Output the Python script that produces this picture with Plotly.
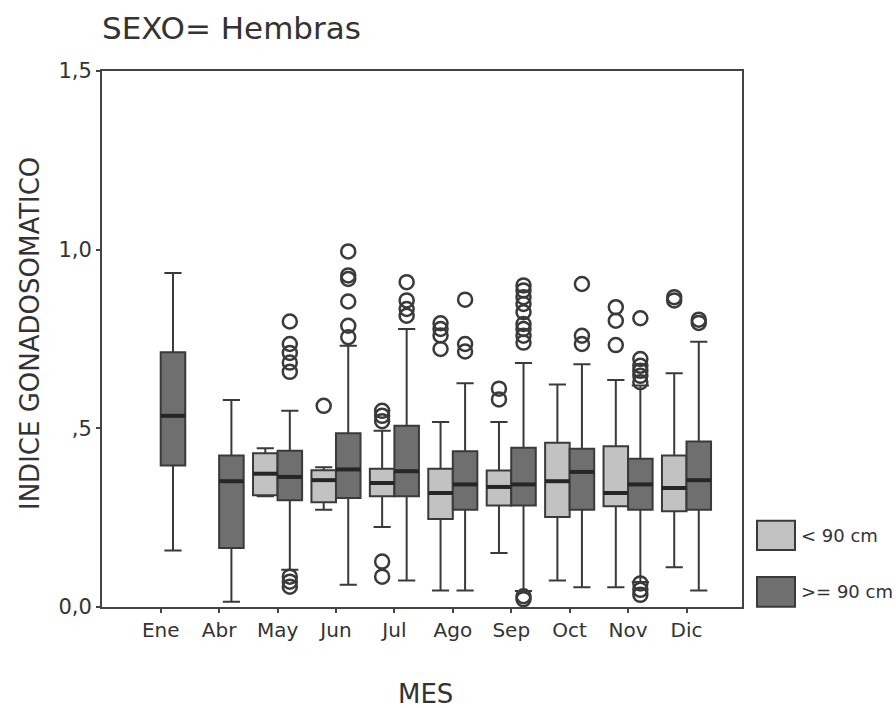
import plotly.graph_objects as go

# ---------------- data ----------------
months = ["Ene", "Abr", "May", "Jun", "Jul", "Ago", "Sep", "Oct", "Nov", "Dic"]
groups = ["< 90 cm", ">= 90 cm"]

# < 90 cm
lt_q1 = [None, None, 0.313, 0.293, 0.310, 0.246, 0.284, 0.252, 0.282, 0.268]
lt_med = [None, None, 0.373, 0.355, 0.347, 0.319, 0.336, 0.352, 0.319, 0.333]
lt_q3 = [None, None, 0.430, 0.383, 0.387, 0.387, 0.382, 0.460, 0.450, 0.424]
lt_low = [None, None, 0.310, 0.272, 0.224, 0.046, 0.151, 0.074, 0.055, 0.111]
lt_up = [None, None, 0.444, 0.391, 0.493, 0.518, 0.518, 0.623, 0.635, 0.654]
lt_out = [
    [], [], [], [0.563],
    [0.549, 0.535, 0.520, 0.127, 0.085],
    [0.794, 0.778, 0.760, 0.722],
    [0.611, 0.581],
    [],
    [0.839, 0.801, 0.733],
    [0.867, 0.858],
]

# >= 90 cm
ge_q1 = [0.396, 0.165, 0.299, 0.305, 0.310, 0.272, 0.284, 0.272, 0.272, 0.272]
ge_med = [0.535, 0.352, 0.364, 0.385, 0.380, 0.343, 0.343, 0.378, 0.343, 0.355]
ge_q3 = [0.713, 0.424, 0.437, 0.486, 0.507, 0.436, 0.446, 0.443, 0.415, 0.463]
ge_low = [0.158, 0.015, 0.104, 0.062, 0.074, 0.046, 0.045, 0.055, 0.070, 0.046]
ge_up = [0.935, 0.579, 0.549, 0.731, 0.778, 0.626, 0.683, 0.679, 0.620, 0.742]
ge_out = [
    [], [],
    [0.799, 0.736, 0.711, 0.684, 0.658, 0.085, 0.071, 0.057],
    [0.995, 0.928, 0.918, 0.855, 0.787, 0.755],
    [0.909, 0.858, 0.834, 0.815],
    [0.860, 0.736, 0.715],
    [0.900, 0.886, 0.867, 0.848, 0.825, 0.792, 0.778, 0.759, 0.740, 0.030, 0.022],
    [0.904, 0.759, 0.736],
    [0.808, 0.694, 0.675, 0.661, 0.647, 0.629, 0.066, 0.048, 0.034],
    [0.804, 0.795],
]

yticks = [0.0, 0.5, 1.0, 1.5]
yticktext = ["0,0", ",5", "1,0", "1,5"]

# ---------------- style ----------------
FONT = "DejaVu Sans"
TXT = "#333333"
EDGE = "#3a3a3a"
LIGHT = "#c2c2c2"
DARK = "#6f6f6f"
HALF = 0.21     # offset of each box from the month position
BW = 0.42       # box width (x units)

fig = go.Figure()

series = [
    (lt_q1, lt_med, lt_q3, lt_low, lt_up, lt_out, -HALF, LIGHT),
    (ge_q1, ge_med, ge_q3, ge_low, ge_up, ge_out, +HALF, DARK),
]

for q1s, meds, q3s, lows, ups, outs, off, fill in series:
    xs, a, b, c, d, e = [], [], [], [], [], []
    for i in range(len(months)):
        if q1s[i] is None:
            continue
        xs.append(i + off)
        a.append(q1s[i]); b.append(meds[i]); c.append(q3s[i])
        d.append(lows[i]); e.append(ups[i])
    fig.add_trace(go.Box(
        x=xs, q1=a, median=b, q3=c, lowerfence=d, upperfence=e,
        width=BW, whiskerwidth=0.7, fillcolor=fill,
        line=dict(color=EDGE, width=2), boxpoints=False,
        showlegend=False, hoverinfo="skip",
    ))
    # thick median bars
    mx, my = [], []
    for xv, mv in zip(xs, b):
        mx += [xv - BW / 2, xv + BW / 2, None]
        my += [mv, mv, None]
    fig.add_trace(go.Scatter(
        x=mx, y=my, mode="lines", line=dict(color="#262626", width=4),
        showlegend=False, hoverinfo="skip",
    ))
    # outliers
    ox, oy = [], []
    for i, vals in enumerate(outs):
        for v in vals:
            ox.append(i + off)
            oy.append(v)
    fig.add_trace(go.Scatter(
        x=ox, y=oy, mode="markers",
        marker=dict(symbol="circle-open", size=14, color=EDGE,
                    line=dict(width=2.5, color=EDGE)),
        showlegend=False, hoverinfo="skip",
    ))

# ---------------- layout ----------------
fig.update_layout(
    width=896, height=708,
    margin=dict(l=102, r=154, t=71, b=101),
    paper_bgcolor="white", plot_bgcolor="white",
    font=dict(family=FONT, color=TXT, size=20),
    boxmode="overlay",
    title=dict(text="SEXO= Hembras", font=dict(family=FONT, size=31, color=TXT),
               xref="paper", x=0.0, xanchor="left",
               yref="container", y=1 - 28 / 708, yanchor="middle"),
)

fig.update_xaxes(
    range=[-1.005, 9.95], tickmode="array",
    tickvals=list(range(len(months))), ticktext=months,
    showline=True, mirror=True, linecolor="#444444", linewidth=2,
    ticks="outside", ticklen=4, tickwidth=2, tickcolor="#444444",
    showgrid=False, zeroline=False,
    tickfont=dict(family=FONT, size=20, color=TXT),
)
fig.update_yaxes(
    range=[0, 1.5], tickmode="array", tickvals=yticks, ticktext=yticktext,
    showline=True, mirror=True, linecolor="#444444", linewidth=2,
    ticks="outside", ticklen=4, tickwidth=2, tickcolor="#444444",
    showgrid=False, zeroline=False,
    tickfont=dict(family=FONT, size=21, color=TXT),
)

# axis titles
fig.add_annotation(text="INDICE GONADOSOMATICO", xref="paper", yref="paper",
                   x=(30 - 102) / 640, y=(607 - 334) / 536, textangle=-90,
                   showarrow=False, xanchor="center", yanchor="middle",
                   font=dict(family=FONT, size=26, color=TXT))
fig.add_annotation(text="MES", xref="paper", yref="paper",
                   x=(425 - 102) / 640, y=(607 - 694) / 536,
                   showarrow=False, xanchor="center", yanchor="middle",
                   font=dict(family=FONT, size=26, color=TXT))

# legend (drawn manually to match the large swatches)
legend_rows = [(groups[0], LIGHT, 520.7, 550.0), (groups[1], DARK, 577.0, 606.7)]
for label, fill, top, bot in legend_rows:
    fig.add_shape(type="rect", xref="paper", yref="paper",
                  x0=(757 - 102) / 640, x1=(795 - 102) / 640,
                  y0=(607 - bot) / 536, y1=(607 - top) / 536,
                  fillcolor=fill, line=dict(color=EDGE, width=2))
    fig.add_annotation(text=label, xref="paper", yref="paper",
                       x=(799 - 102) / 640, y=(607 - (top + bot) / 2) / 536,
                       showarrow=False, xanchor="left", yanchor="middle",
                       font=dict(family=FONT, size=18, color=TXT))

fig.write_html("out.html")
